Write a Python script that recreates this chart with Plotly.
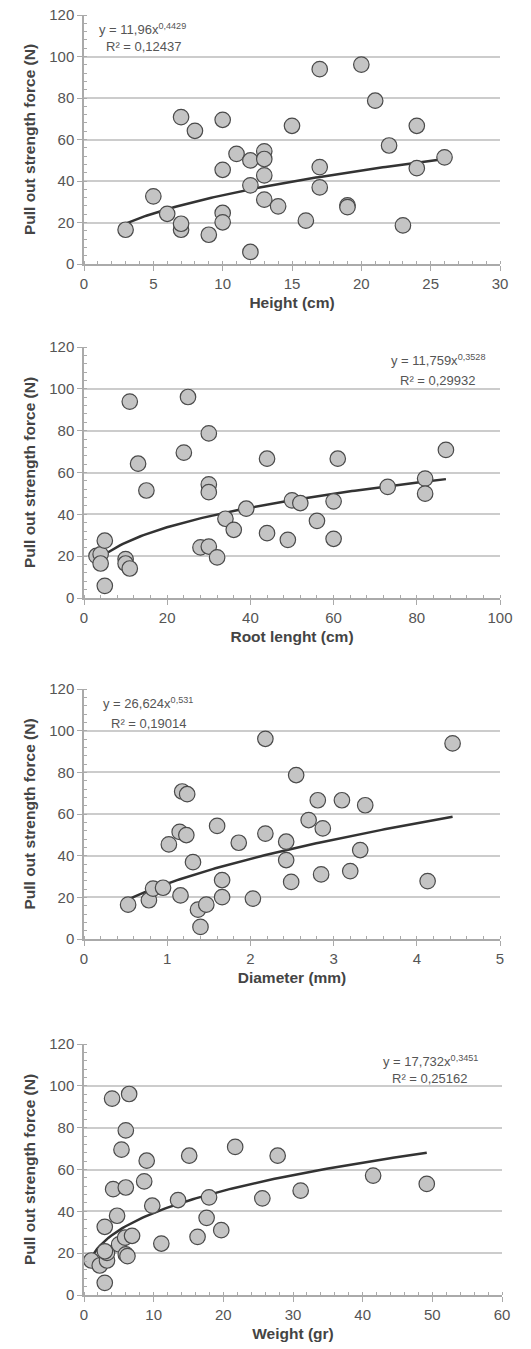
import plotly.graph_objects as go
import numpy as np

# ---------------- data ----------------
height_x = [3, 5, 6, 7, 7, 7, 8, 9, 10, 10, 10, 10, 11, 12, 12, 12, 13, 13, 13, 13,
            14, 15, 16, 17, 17, 17, 19, 19, 20, 21, 22, 23, 24, 24, 26]
height_y = [16.5, 32.6, 24.2, 70.8, 16.5, 19.4, 64.2, 14.1, 69.5, 45.4, 24.6, 20.1, 53.1,
            49.9, 37.9, 5.8, 54.3, 50.6, 42.7, 31.0, 27.8, 66.6, 20.9, 93.9, 46.7, 36.9,
            28.3, 27.4, 96.1, 78.7, 57.1, 18.6, 66.6, 46.2, 51.4]

root_x = [3, 4, 4, 5, 5, 10, 10, 11, 11, 13, 15, 24, 25, 28, 30, 30, 30, 30, 32, 34, 36,
          39, 44, 44, 49, 50, 52, 56, 60, 60, 61, 73, 82, 82, 87]
root_y = [20.1, 20.9, 16.5, 27.4, 5.8, 18.6, 16.5, 14.1, 93.9, 64.2, 51.4, 69.5, 96.1,
          24.2, 78.7, 54.3, 50.6, 24.6, 19.4, 37.9, 32.6, 42.7, 66.6, 31.0, 27.8, 46.7,
          45.4, 36.9, 46.2, 28.3, 66.6, 53.1, 57.1, 49.9, 70.8]

diam_x = [0.53, 0.78, 0.83, 0.95, 1.02, 1.15, 1.16, 1.18, 1.24, 1.23, 1.31, 1.37, 1.40,
          1.47, 1.60, 1.66, 1.66, 1.86, 2.03, 2.18, 2.18, 2.43, 2.43, 2.49, 2.55, 2.70,
          2.81, 2.85, 2.87, 3.10, 3.20, 3.32, 3.38, 4.13, 4.43]
diam_y = [16.5, 18.6, 24.2, 24.6, 45.4, 51.4, 20.9, 70.8, 69.5, 49.9, 36.9, 14.1, 5.8,
          16.5, 54.3, 28.3, 20.1, 46.2, 19.4, 96.1, 50.6, 46.7, 37.9, 27.4, 78.7, 57.1,
          66.6, 31.0, 53.1, 66.6, 32.6, 42.7, 64.2, 27.8, 93.9]

weight_x = [1.06, 2.26, 2.98, 2.98, 3.3, 3.3, 3.0, 4.03, 4.18, 4.75, 5.04, 5.38, 5.9, 6.0,
            6.0, 6.0, 6.24, 6.48, 6.9, 8.64, 9.0, 9.8, 11.1, 13.5, 15.1, 16.3, 17.6,
            17.95, 19.7, 21.7, 25.6, 27.8, 31.1, 41.5, 49.2]
weight_y = [16.5, 14.1, 32.6, 5.8, 16.5, 20.1, 20.9, 93.9, 50.6, 37.9, 24.2, 69.5, 27.4,
            78.7, 51.4, 19.4, 18.6, 96.1, 28.3, 54.3, 64.2, 42.7, 24.6, 45.4, 66.6, 27.8,
            36.9, 46.7, 31.0, 70.8, 46.2, 66.6, 49.9, 57.1, 53.1]

# power trendline coefficients (as printed on the chart)
fit_a = [11.96, 11.759, 26.624, 17.732]
fit_b = [0.4429, 0.3528, 0.531, 0.3451]
eq_text = ["y = 11,96x<sup>0,4429</sup>", "y = 11,759x<sup>0,3528</sup>",
           "y = 26,624x<sup>0,531</sup>", "y = 17,732x<sup>0,3451</sup>"]
r2_text = ["R² = 0,12437", "R² = 0,29932", "R² = 0,19014", "R² = 0,25162"]

x_titles = ["Height (cm)", "Root lenght (cm)", "Diameter (mm)", "Weight (gr)"]
y_title = "Pull out strength force (N)"
x_max = [30, 100, 5, 60]
x_dtick = [5, 20, 1, 10]
x_minor = [1, 4, 0.2, 2]

xs = [height_x, root_x, diam_x, weight_x]
ys = [height_y, root_y, diam_y, weight_y]

# ---------------- layout geometry (pixels, window coordinates) ----------------
W, H = 531, 1349
panels = [  # (x0, x1, ytop, ybottom)
    (84, 500, 15, 264),
    (84, 500, 347, 598),
    (84, 500, 689, 939),
    (84, 502, 1044, 1295),
]
# annotation positions: (x px, y px eq, y px r2, anchor, r2 x px)
ann_pos = [
    (97, 29, 46, "left", 104),
    (487, 360, 380, "right", 478),
    (101, 703, 723, "left", 109),
    (381, 1061, 1078, "left", 390),
]

fig = go.Figure()
layout = dict(width=W, height=H, margin=dict(l=0, r=0, t=0, b=0, autoexpand=False),
              paper_bgcolor="white", plot_bgcolor="white", showlegend=False,
              font=dict(family="Liberation Sans, Arial, sans-serif"))
annotations = []

for i in range(4):
    xa = "x" if i == 0 else f"x{i+1}"
    ya = "y" if i == 0 else f"y{i+1}"
    xk = "xaxis" if i == 0 else f"xaxis{i+1}"
    yk = "yaxis" if i == 0 else f"yaxis{i+1}"
    x0, x1, yt, yb = panels[i]

    # trendline
    xmin, xmax = min(xs[i]), max(xs[i])
    tx = np.linspace(xmin, xmax, 120)
    ty = fit_a[i] * tx ** fit_b[i]
    fig.add_trace(go.Scatter(x=tx, y=ty, mode="lines", xaxis=xa, yaxis=ya,
                             line=dict(color="#333333", width=2.5), hoverinfo="skip"))
    fig.add_trace(go.Scatter(x=xs[i], y=ys[i], mode="markers", xaxis=xa, yaxis=ya,
                             marker=dict(size=15.5, color="#c4c4c4",
                                         line=dict(color="#4a4a4a", width=1.2))))

    layout[xk] = dict(domain=[x0 / W, x1 / W], anchor=ya, range=[0, x_max[i]],
                      automargin=False, ticklabeloverflow="allow",
                      dtick=x_dtick[i], tick0=0, showgrid=False, zeroline=False,
                      showline=True, linecolor="#aaaaaa", linewidth=1.5,
                      ticks="outside", ticklen=5, tickcolor="#aaaaaa",
                      minor=dict(dtick=x_minor[i], ticks="inside", ticklen=3,
                                 tickcolor="#aaaaaa", showgrid=False),
                      tickfont=dict(size=15, color="#555555"),
                      title=dict(text=f"<b>{x_titles[i]}</b>", standoff=6,
                                 font=dict(size=15.5, color="#444444")))
    layout[yk] = dict(domain=[1 - yb / H, 1 - yt / H], anchor=xa, range=[0, 120],
                      automargin=False, ticklabeloverflow="allow",
                      dtick=20, showgrid=True, gridcolor="#cccccc", gridwidth=1.5,
                      zeroline=False, showline=True, linecolor="#aaaaaa", linewidth=1.5,
                      ticks="outside", ticklen=5, tickcolor="#aaaaaa",
                      minor=dict(dtick=4, ticks="inside", ticklen=3,
                                 tickcolor="#aaaaaa", showgrid=False),
                      tickfont=dict(size=15, color="#555555"),
                      title=dict(text=f"<b>{y_title}</b>", standoff=10,
                                 font=dict(size=15.5, color="#444444")))

    axp, eqy, r2y, anc, r2x = ann_pos[i]
    annotations.append(dict(x=axp / W, y=1 - eqy / H, xref="paper",
                            yref="paper", text=eq_text[i], showarrow=False, xanchor=anc,
                            yanchor="middle", font=dict(size=13, color="#555555")))
    annotations.append(dict(x=r2x / W, y=1 - r2y / H, xref="paper",
                            yref="paper", text=r2_text[i], showarrow=False,
                            xanchor="left" if anc == "left" else "right",
                            yanchor="middle", font=dict(size=13, color="#555555")))

layout["annotations"] = annotations
fig.update_layout(**layout)
# remove the default page margin so the figure sits at the window's top-left corner
fig.write_html("out.html", config={"displayModeBar": False},
               post_script="document.body.style.margin='0';"
                           "document.body.style.overflow='hidden';")
